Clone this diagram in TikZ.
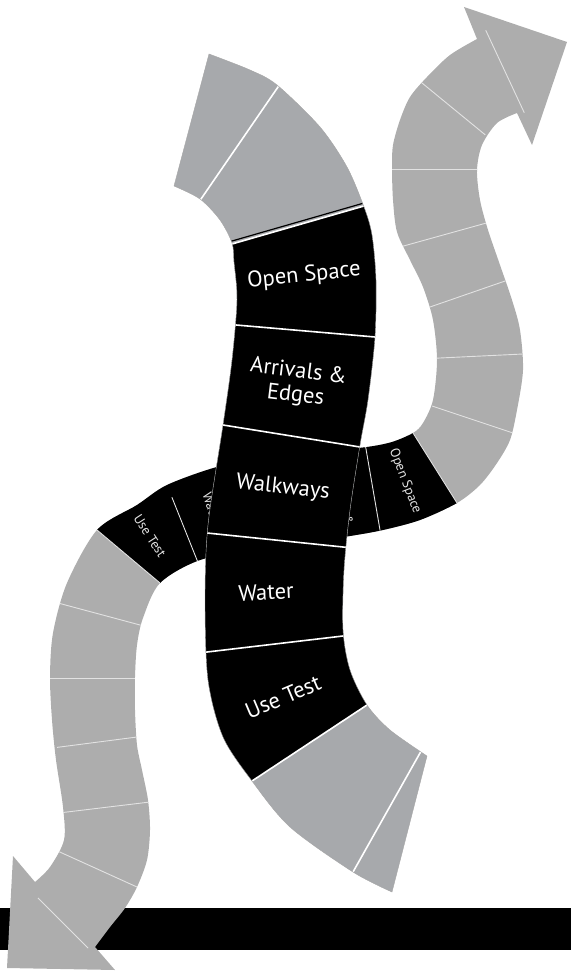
\documentclass[tikz,border=0pt]{standalone}
\usepackage{fontspec}
\setmainfont{PT Sans}
\usetikzlibrary{calc}
\definecolor{bandgray}{HTML}{A7A9AC}
\definecolor{arrowgray}{HTML}{ADADAD}
\definecolor{seamgray}{HTML}{E2E2E2}
\tikzset{
  seam/.style={draw=white, line width=1.6pt, shorten <=-3pt, shorten >=-3pt},
  thinseam/.style={draw=seamgray, line width=0.9pt, shorten <=-3pt, shorten >=-3pt},
  biglabel/.style={text=white, font=\fontsize{22.5}{24}\selectfont, align=center, inner sep=0pt},
  smalllabel/.style={text=seamgray, font=\fontsize{13.5}{14}\selectfont, align=center, inner sep=0pt}
}
% outline of the long S-shaped path with its two arrow heads
\newcommand{\snakeoutline}{
  plot[smooth] coordinates {(477,39) (450,55) (427,77) (410,97) (400,120) (393,145) (392,167) (393,200) (397,232) (410,260) (423,287) (433,320) (437,360) (433,400) (423,423) (413,433) (392,442) (367,447) (320,452) (260,460) (217,467) (167,485) (137,505) (97,530) (67,583) (53,633) (50,677) (52,720) (56,760) (63,807) (64,840) (50,867) (35,882)}
  -- (13,856) -- (7,968) -- (115,970) --
  plot[smooth] coordinates {(95,947) (110,927) (125,908) (137,887) (147,860) (150,830) (148,800) (142,770) (137,745) (135,710) (135,677) (137,645) (143,618) (160,583) (200,560) (260,548) (320,540) (350,536) (383,530) (420,520) (457,503) (480,485) (497,463) (510,440) (517,410) (523,370) (520,330) (512,300) (500,265) (488,230) (480,200) (477,170) (482,145) (497,123) (517,113)}
  -- (532,145) -- (567,42) -- (464,7) -- cycle}
% outline of the curved main path
\newcommand{\mainoutline}{
  plot[smooth] coordinates {(209,54) (250,70) (277,85) (320,127) (347,167) (364,207) (372,235) (376,280) (375,337) (368,400) (360,445) (350,510) (344,570) (343,630) (350,670) (367,705) (390,730) (427,756)}
  -- (392,892) --
  plot[smooth] coordinates {(392,892) (353,872) (290,827) (252,781) (223,737) (208,680) (205,600) (208,525) (223,425) (232,360) (237,300) (234,262) (232,243) (220,220) (200,199) (174,186)}
  -- cycle}

\begin{document}
\begin{tikzpicture}[x=1pt,y=-1pt]
\useasboundingbox (0,0) rectangle (571,973);
\fill[black] (0,908) rectangle (571,950);

% S path
\fill[arrowgray] \snakeoutline;
\begin{scope}
  \clip \snakeoutline;
  \fill[black] (34,477) -- (223,636) -- (501,573) -- (369,363) -- cycle;
  \foreach \xa/\ya/\xb/\yb in {487/33/523/110, 422/83/483/133, 392/169/477/169, 400/247/490/222,
      430/307/508/280, 440/358/523/354, 435/407/513/433, 413/433/457/503, 366/449/380/530,
      173/500/197/560, 97/530/160/583, 58/603/140/625, 50/678/135/678, 60/747/137/737,
      67/812/150/802, 62/853/137/887, 40/900/86/946}
    \draw[thinseam] (\xa,\ya) -- (\xb,\yb);
  \node[smalllabel, rotate=-69] (s-open) at (405,481) {Open Space};
  \node[smalllabel, rotate=-75] (s-arrive) at (334,500) {Arrivals \&\\Edges};
  \node[smalllabel, rotate=-72] (s-water) at (212,509) {Water};
  \node[smalllabel, rotate=-57] (s-use) at (150,536) {Use Test};
\end{scope}

% main path
\fill[bandgray] \mainoutline;
\begin{scope}
  \clip \mainoutline;
  \fill[black] (150,268) -- (450,181) -- (450,650) -- (150,848) -- cycle;
  \draw[black, line width=1.2pt, shorten <=-3pt, shorten >=-3pt] (232,241) -- (364,203);
  \foreach \xa/\ya/\xb/\yb in {278/87/201/199, 232/244/364/206, 236/325/375/337, 223/425/360/447,
      207/533/343/547, 207/652/343/636, 252/781/367/705, 420/753/353/872}
    \draw[seam] (\xa,\ya) -- (\xb,\yb);
\end{scope}
\draw[gray!70, line width=0.4pt] \mainoutline;

\node[biglabel, rotate=6] (m-open) at (304,276) {Open Space};
\node[biglabel, rotate=-7] (m-arrive) at (297,384) {Arrivals \&\\Edges};
\node[biglabel, rotate=-6] (m-walk) at (283,488) {Walkways};
\node[biglabel, rotate=3] (m-water) at (266,592) {Water};
\node[biglabel, rotate=23] (m-use) at (283,697) {Use Test};
\end{tikzpicture}
\end{document}
